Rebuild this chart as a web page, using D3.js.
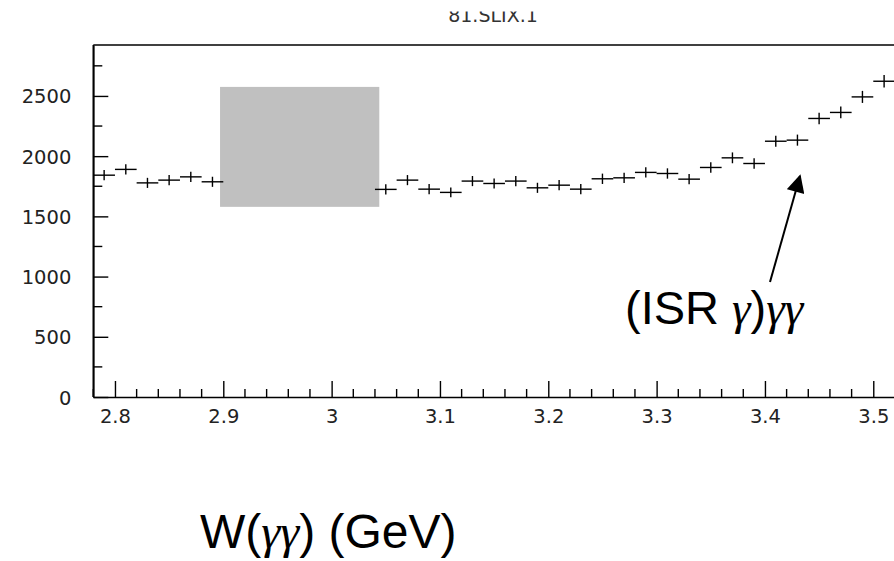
<!DOCTYPE html>
<html>
<head>
<meta charset="utf-8">
<script src="https://cdn.jsdelivr.net/npm/d3@7"></script>
<style>
  html, body { margin: 0; padding: 0; background: #ffffff; }
  svg { display: block; }
</style>
</head>
<body>
<script>
// ---- Data ----
const binCenters = [2.79, 2.81, 2.83, 2.85, 2.87, 2.89, 2.91, 2.93, 2.95, 2.97, 2.99, 3.01, 3.03,
  3.05, 3.07, 3.09, 3.11, 3.13, 3.15, 3.17, 3.19, 3.21, 3.23, 3.25, 3.27, 3.29, 3.31, 3.33,
  3.35, 3.37, 3.39, 3.41, 3.43, 3.45, 3.47, 3.49, 3.51];
// null = hidden behind the grey box in the reference
const counts = [1842, 1890, 1778, 1801, 1828, 1787, null, null, null, null, null, null, null,
  1724, 1801, 1726, 1699, 1793, 1773, 1793, 1737, 1759, 1726, 1812, 1820, 1865, 1856, 1809,
  1906, 1986, 1939, 2124, 2133, 2313, 2363, 2492, 2622];
const errors = [43, 43, 42, 42, 43, 42, null, null, null, null, null, null, null,
  42, 42, 42, 41, 42, 42, 42, 42, 42, 42, 43, 43, 43, 43, 43,
  44, 45, 44, 46, 46, 48, 49, 50, 51];
const binWidth = 0.02;
const xMajorTicks = [2.8, 2.9, 3.0, 3.1, 3.2, 3.3, 3.4, 3.5];
const xTickLabels = ["2.8", "2.9", "3", "3.1", "3.2", "3.3", "3.4", "3.5"];
const yMajorTicks = [0, 500, 1000, 1500, 2000, 2500];
const yTickLabels = ["0", "500", "1000", "1500", "2000", "2500"];
const greyBox = { x0: 2.897, x1: 3.044, y0: 1579, y1: 2575 };
const titleText = "81.SLIX.1";
const annotationText = ["(ISR ", "γ", ")", "γγ"];
const xAxisTitle = ["W(", "γγ", ") (GeV)"];

// ---- Layout ----
const W = 894, H = 561;
const plot = { left: 93.3, top: 45, bottom: 397 };
const xDomain = [2.78, 3.54];
const yDomain = [0, 2923];

const svg = d3.select("body").append("svg").attr("width", W).attr("height", H);
svg.append("rect").attr("width", W).attr("height", H).attr("fill", "#ffffff");

const x = d3.scaleLinear().domain(xDomain).range([plot.left, plot.left + (xDomain[1] - xDomain[0]) * 1083.3]);
const y = d3.scaleLinear().domain(yDomain).range([plot.bottom, plot.top]);

// grey box
svg.append("rect")
  .attr("x", x(greyBox.x0)).attr("y", y(greyBox.y1))
  .attr("width", x(greyBox.x1) - x(greyBox.x0))
  .attr("height", y(greyBox.y0) - y(greyBox.y1))
  .attr("fill", "#c0c0c0");

// data crosses
const pts = binCenters.map((c, i) => ({ c, v: counts[i], e: errors[i] })).filter(d => d.v !== null);
const g = svg.append("g").attr("stroke", "#000").attr("stroke-width", 1.4).attr("fill", "none");
g.selectAll("line.h").data(pts).join("line").attr("class", "h")
  .attr("x1", d => x(d.c - binWidth / 2)).attr("x2", d => x(d.c + binWidth / 2))
  .attr("y1", d => y(d.v)).attr("y2", d => y(d.v));
g.selectAll("line.v").data(pts).join("line").attr("class", "v")
  .attr("x1", d => x(d.c)).attr("x2", d => x(d.c))
  .attr("y1", d => y(d.v - d.e)).attr("y2", d => y(d.v + d.e));

// frame: top line
const frame = svg.append("g").attr("stroke", "#000").attr("stroke-width", 1.6);
frame.append("line").attr("x1", x(xDomain[0])).attr("x2", x(xDomain[1])).attr("y1", y(yDomain[1])).attr("y2", y(yDomain[1]));

// x axis (ticks pointing inward)
const xMinor = d3.range(2.78, 3.5401, 0.02).filter(v => !xMajorTicks.some(m => Math.abs(m - v) < 1e-6));
const xAxis = d3.axisBottom(x).tickValues(xMajorTicks).tickSizeInner(-16).tickSizeOuter(0)
  .tickFormat((d, i) => xTickLabels[i]).tickPadding(0);
const gx = svg.append("g").attr("transform", `translate(0,${plot.bottom})`).call(xAxis);
gx.select(".domain").attr("stroke", "#000").attr("stroke-width", 1.6);
gx.selectAll(".tick line").attr("stroke", "#000").attr("stroke-width", 1.4);
gx.selectAll(".tick text").attr("y", 26).attr("dy", 0)
  .attr("font-family", "DejaVu Sans").attr("font-size", 19.5).attr("fill", "#222");
svg.append("g").selectAll("line").data(xMinor).join("line")
  .attr("x1", d => x(d)).attr("x2", d => x(d))
  .attr("y1", plot.bottom).attr("y2", plot.bottom - 8)
  .attr("stroke", "#000").attr("stroke-width", 1.4);

// y axis (ticks pointing inward)
const yMinor = d3.range(250, 2923, 500);
const yAxis = d3.axisLeft(y).tickValues(yMajorTicks).tickSizeInner(-15).tickSizeOuter(0)
  .tickFormat((d, i) => yTickLabels[i]).tickPadding(0);
const gy = svg.append("g").attr("transform", `translate(${plot.left},0)`).call(yAxis);
gy.select(".domain").attr("stroke", "#000").attr("stroke-width", 1.6);
gy.selectAll(".tick line").attr("stroke", "#000").attr("stroke-width", 1.4);
gy.selectAll(".tick text").attr("x", -22).attr("dy", "0.36em")
  .attr("font-family", "DejaVu Sans").attr("font-size", 19.5).attr("fill", "#222");
svg.append("g").selectAll("line").data(yMinor).join("line")
  .attr("x1", plot.left).attr("x2", plot.left + 9)
  .attr("y1", d => y(d)).attr("y2", d => y(d))
  .attr("stroke", "#000").attr("stroke-width", 1.4);
svg.append("line").attr("x1", plot.left).attr("x2", plot.left).attr("y1", plot.top).attr("y2", plot.bottom)
  .attr("stroke", "#000").attr("stroke-width", 1.6);

// clipped title
svg.append("text").attr("x", 493).attr("y", 22).attr("text-anchor", "middle")
  .attr("font-family", "DejaVu Sans").attr("font-size", 19).attr("fill", "#333").text(titleText);
svg.append("rect").attr("x", 0).attr("y", 0).attr("width", W).attr("height", 11.5).attr("fill", "#ffffff");

// annotation arrow
const defs = svg.append("defs");
defs.append("marker").attr("id", "ah").attr("viewBox", "0 0 10 10").attr("refX", 9).attr("refY", 5)
  .attr("markerWidth", 10).attr("markerHeight", 9).attr("markerUnits", "strokeWidth").attr("orient", "auto")
  .append("path").attr("d", "M0,0 L10,5 L0,10 Z").attr("fill", "#000");
svg.append("line").attr("x1", 770).attr("y1", 282).attr("x2", 800).attr("y2", 176)
  .attr("stroke", "#000").attr("stroke-width", 2).attr("marker-end", "url(#ah)");

// annotation text
const at = svg.append("text").attr("x", 625).attr("y", 324)
  .attr("font-family", "Liberation Sans, Arial, sans-serif").attr("font-size", 47).attr("fill", "#000");
annotationText.forEach(s => {
  const t = at.append("tspan").text(s);
  if (s.includes("γ")) t.attr("font-family", "Liberation Serif").attr("font-style", "italic");
});

// x axis title
const xt = svg.append("text").attr("x", 200).attr("y", 548)
  .attr("font-family", "Liberation Sans, Arial, sans-serif").attr("font-size", 48).attr("fill", "#000");
xAxisTitle.forEach(s => {
  const t = xt.append("tspan").text(s);
  if (s.includes("γ")) t.attr("font-family", "Liberation Serif").attr("font-style", "italic");
});
</script>
</body>
</html>
